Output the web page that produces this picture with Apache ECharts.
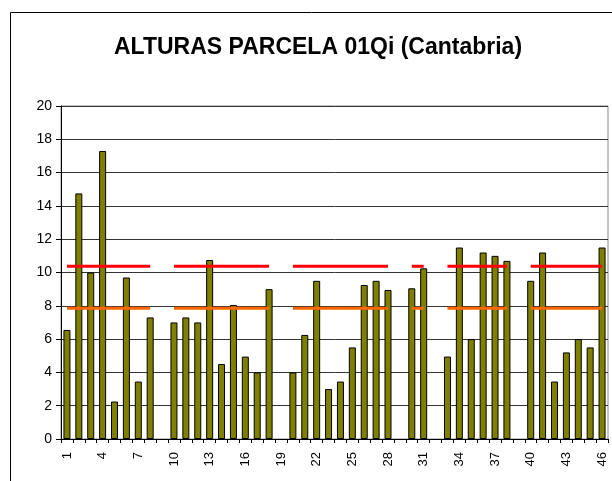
<!DOCTYPE html>
<html>
<head>
<meta charset="utf-8">
<script src="https://cdn.jsdelivr.net/npm/echarts@6/dist/echarts.min.js"></script>
<style>
  html, body { margin: 0; padding: 0; background: #fff; }
  #chart { width: 612px; height: 481px; }
</style>
</head>
<body>
<div id="chart"></div>
<script>
// parcelas 1..46
var categories = [];
for (var i = 1; i <= 46; i++) categories.push(String(i));

// alturas (null = sin dato)
var alturas = [
  6.55, 14.75, 10.0, 17.3, 2.25, 9.7, 3.45, 7.3, null, 7.0,
  7.3, 7.0, 10.75, 4.5, 8.05, 4.95, 4.0, 9.0, null, 4.0,
  6.25, 9.5, 3.0, 3.45, 5.5, 9.25, 9.5, 8.95, null, 9.05,
  10.25, null, 4.95, 11.5, 6.0, 11.2, 11.0, 10.7, null, 9.5,
  11.2, 3.45, 5.2, 6.0, 5.5, 11.5
];

var nivelRojo = 10.37;
var nivelNaranja = 7.85;

// lineas de referencia, solo donde hay dato
var lineaRoja = alturas.map(function (v) { return v == null ? null : nivelRojo; });
var lineaNaranja = alturas.map(function (v) { return v == null ? null : nivelNaranja; });

var chart = echarts.init(document.getElementById("chart"));
chart.setOption({
  animation: false,
  title: {
    text: "ALTURAS PARCELA 01Qi (Cantabria)",
    left: 109,
    top: 31,
    textStyle: { fontFamily: "Liberation Sans", fontWeight: "bold", fontSize: 23, color: "#000" }
  },
  graphic: [
    {
      type: "rect",
      shape: { x: 10.5, y: 12.5, width: 700, height: 600 },
      style: { fill: "none", stroke: "#000", lineWidth: 1 }
    }
  ],
  grid: {
    left: 61, right: 4, top: 106, bottom: 42,
    show: true, borderColor: "#888", borderWidth: 1
  },
  xAxis: {
    type: "category",
    data: categories,
    boundaryGap: true,
    axisLine: { lineStyle: { color: "#000" } },
    axisTick: { show: true, interval: 0, length: 4, lineStyle: { color: "#000" } },
    axisLabel: {
      interval: 2, rotate: 90, margin: 13,
      fontFamily: "Liberation Sans", fontSize: 13, color: "#000"
    }
  },
  yAxis: {
    type: "value",
    min: 0, max: 20, interval: 2,
    axisLine: { show: true, lineStyle: { color: "#000" } },
    axisTick: { show: true, length: 5, lineStyle: { color: "#000" } },
    axisLabel: { fontFamily: "Liberation Sans", fontSize: 14, color: "#000", margin: 9 },
    splitLine: { lineStyle: { color: "#333", width: 1 } }
  },
  series: [
    {
      type: "bar",
      data: alturas,
      barWidth: 7,
      itemStyle: { color: "#808000", borderColor: "#000", borderWidth: 1 }
    },
    {
      type: "line",
      data: lineaRoja,
      symbol: "none",
      connectNulls: false,
      lineStyle: { color: "#ff0000", width: 3 },
      z: 5
    },
    {
      type: "line",
      data: lineaNaranja,
      symbol: "none",
      connectNulls: false,
      lineStyle: { color: "#ff6600", width: 3 },
      z: 5
    }
  ]
});
</script>
</body>
</html>
